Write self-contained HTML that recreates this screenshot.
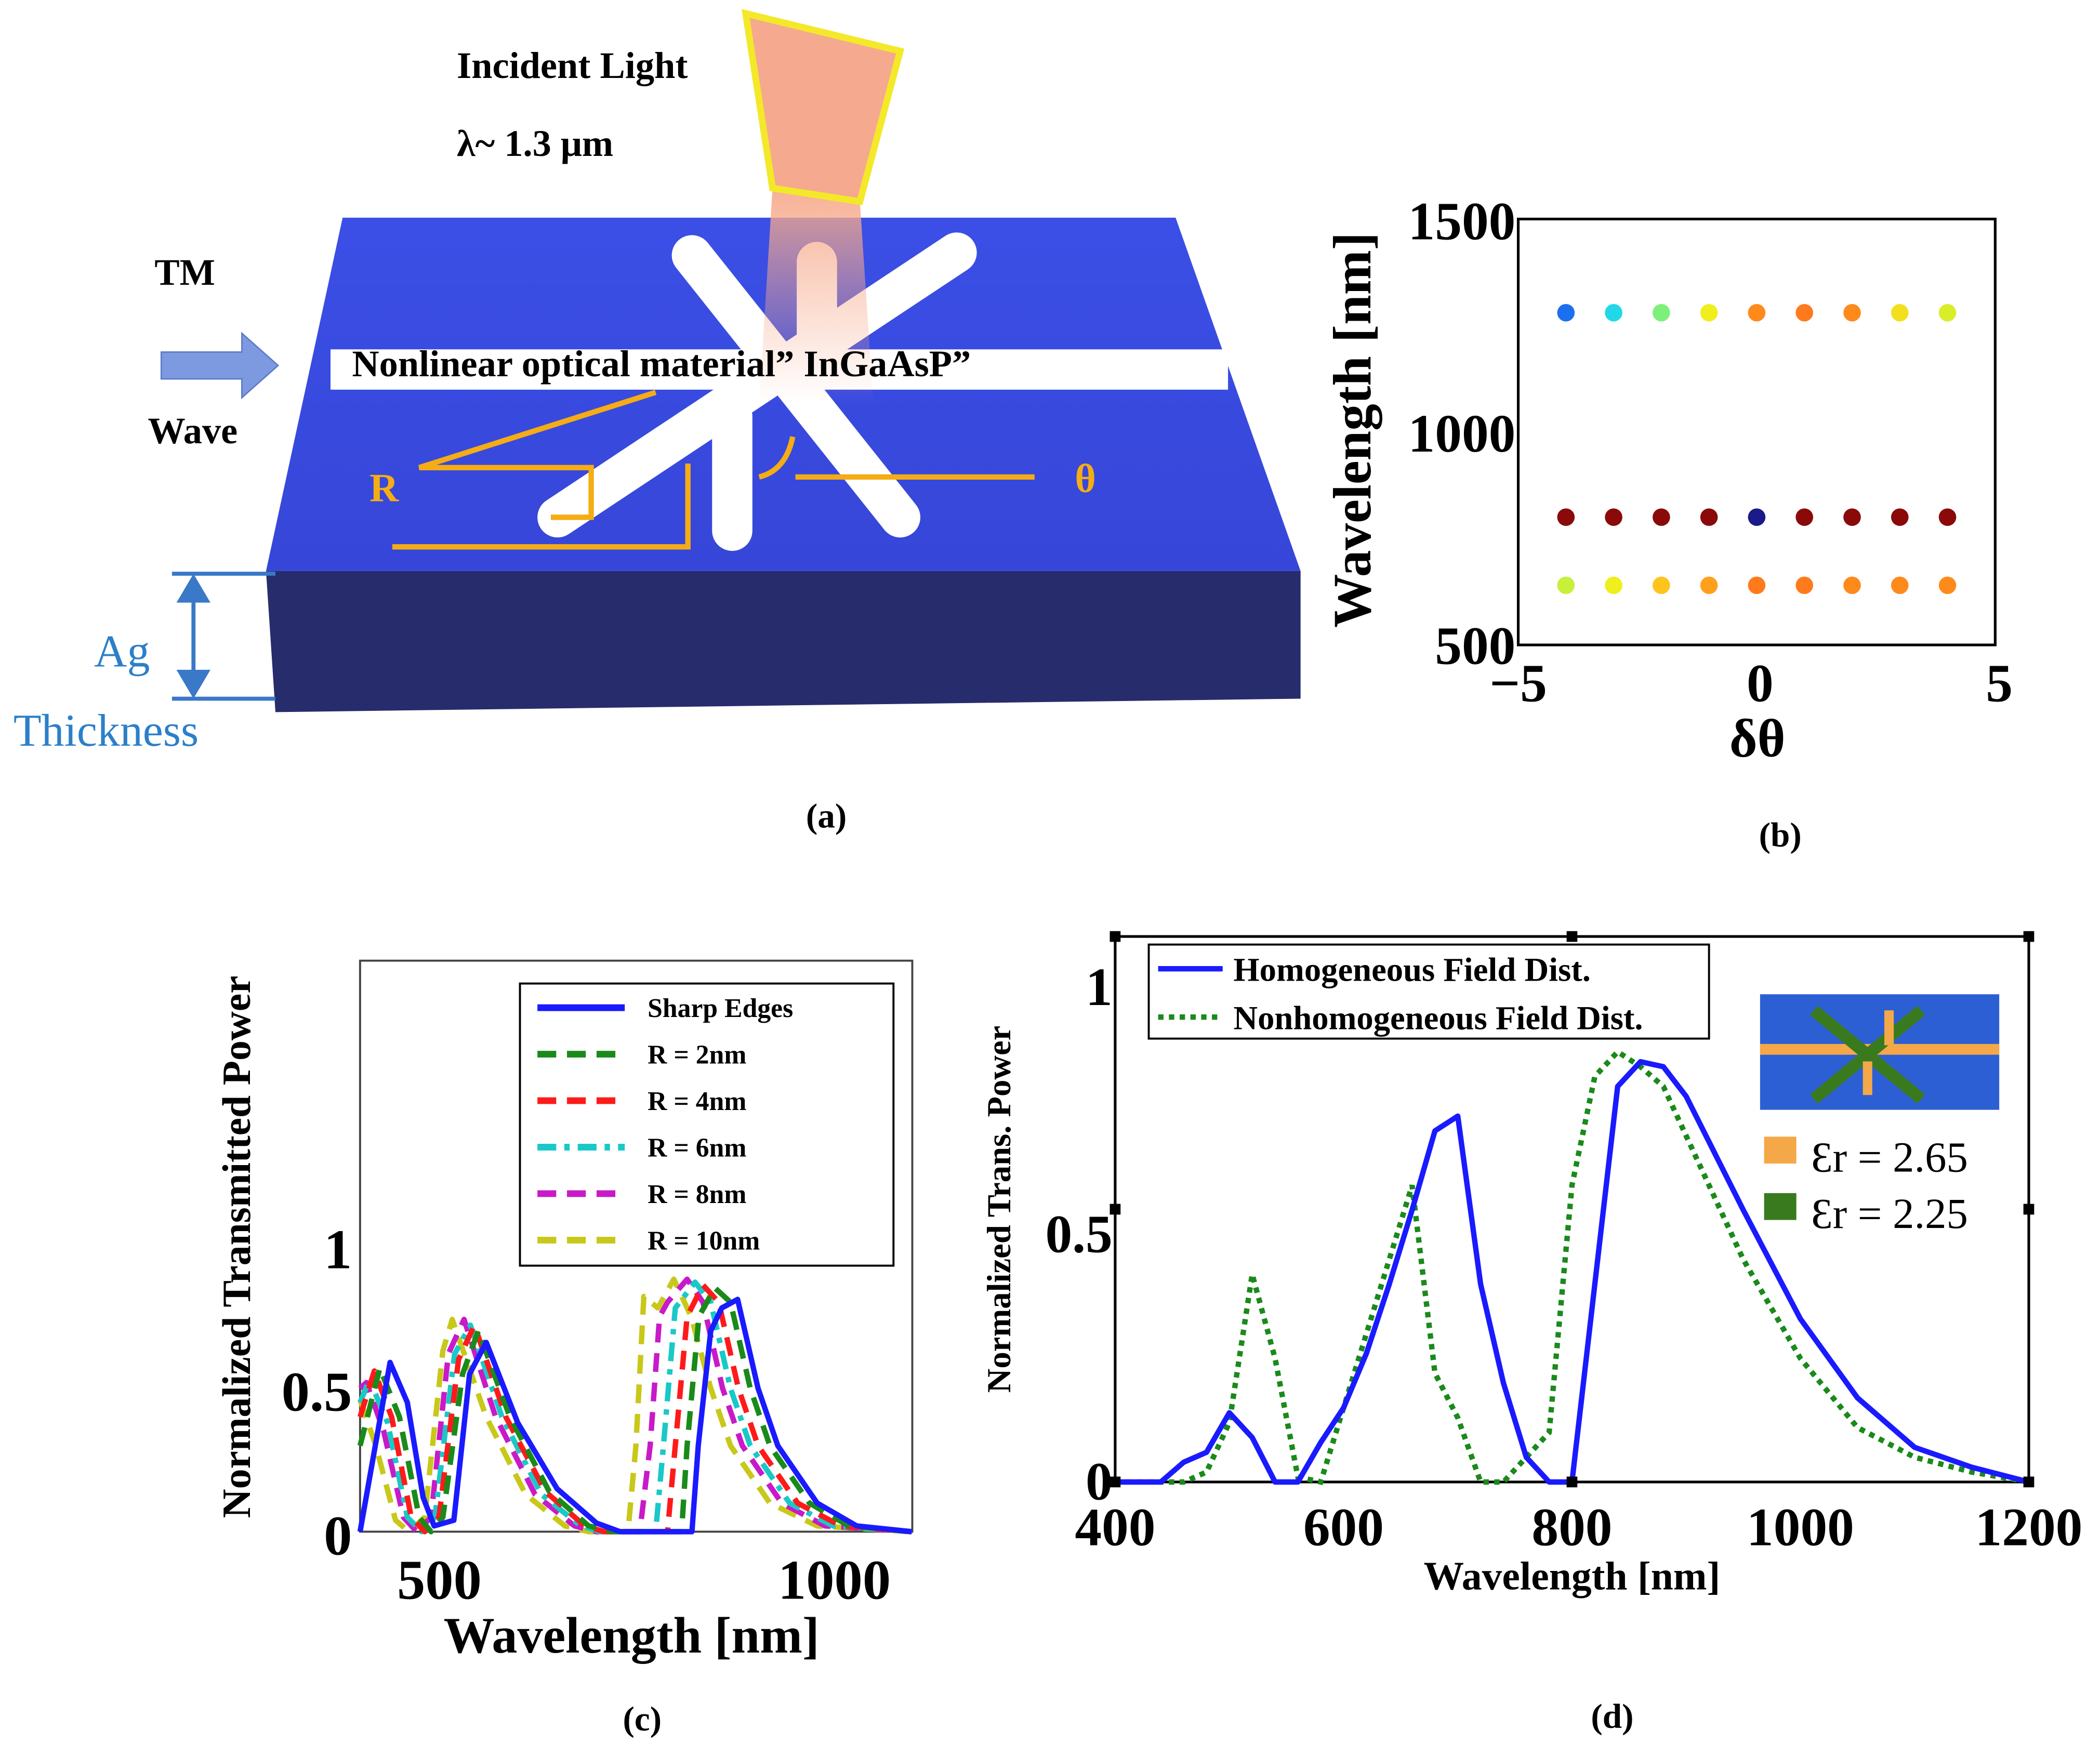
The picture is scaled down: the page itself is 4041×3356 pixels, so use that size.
<!DOCTYPE html>
<html><head><meta charset="utf-8">
<style>
html,body{margin:0;padding:0;background:#fff;}
svg{display:block;}
text{font-family:"Liberation Serif",serif;}
</style></head>
<body>
<svg id="fig" width="4041" height="3356" viewBox="0 0 1563 1298" xmlns="http://www.w3.org/2000/svg">
<defs>
<linearGradient id="topg" x1="0" y1="0" x2="0" y2="1"><stop offset="0" stop-color="#3b4fe6"/><stop offset="1" stop-color="#3646d8"/></linearGradient>
<linearGradient id="beam" x1="0" y1="0" x2="0" y2="1"><stop offset="0" stop-color="#f6a88a" stop-opacity="0.9"/><stop offset="1" stop-color="#f6a88a" stop-opacity="0"/></linearGradient>
</defs>
<g>
<polygon points="255,162 875,162 968,425 198,425" fill="url(#topg)"/>
<polygon points="198,425 968,425 968,520 205,530" fill="#262c6c"/>
<rect x="246" y="260" width="668" height="30" fill="#fff"/>
<g stroke="#fff" stroke-linecap="round" stroke-width="30">
<line x1="515" y1="190" x2="670" y2="385"/>
<line x1="712" y1="188" x2="415" y2="385"/>
<line x1="608" y1="195" x2="608" y2="250"/>
<line x1="545" y1="310" x2="545" y2="395"/>
</g>
<polygon points="575,140 640,150 650,300 565,300" fill="url(#beam)"/>
<polygon points="555,10 670,38 640,150 575,140" fill="#f5a98e" stroke="#f4e82a" stroke-width="5"/>
<text x="340" y="58" font-size="28" font-weight="bold">Incident Light</text>
<text x="340" y="116" font-size="28" font-weight="bold">λ~ 1.3 μm</text>
<text x="115" y="212" font-size="28" font-weight="bold">TM</text>
<polygon points="120,262 180,262 180,248 207,272 180,296 180,282 120,282" fill="#7d9ae0" stroke="#5a78c8"/>
<text x="110" y="330" font-size="28" font-weight="bold">Wave</text>
<text x="262" y="280" font-size="28" font-weight="bold">Nonlinear optical material” InGaAsP”</text>
<g stroke="#f5ac15" stroke-width="4" fill="none">
<polyline points="488,292 312,348 440,348 440,385 410,385"/>
<polyline points="292,407 512,407 512,345"/>
<line x1="770" y1="355" x2="592" y2="355"/>
<path d="M590,325 Q585,350 565,355"/>
</g>
<text x="275" y="373" font-size="30" font-weight="bold" fill="#f5ac15">R</text>
<text x="800" y="366" font-size="30" font-weight="bold" fill="#f5ac15">θ</text>
<g stroke="#3a78c8" stroke-width="3" fill="#3a78c8">
<line x1="128" y1="427" x2="205" y2="427"/><line x1="128" y1="520" x2="205" y2="520"/>
<line x1="144" y1="440" x2="144" y2="505"/>
<polygon points="134,447 144,430 154,447"/><polygon points="134,500 144,517 154,500"/>
</g>
<text x="70" y="496" font-size="34" fill="#2c7fc9">Ag</text>
<text x="10" y="555" font-size="34" fill="#2c7fc9">Thickness</text>
<text x="615" y="616" font-size="26" font-weight="bold" text-anchor="middle">(a)</text>
</g>
<g id="pb">
<rect x="1130" y="163" width="355" height="317" fill="none" stroke="#000" stroke-width="2"/>
<text x="1130" y="522" font-size="40" font-weight="bold" text-anchor="middle">−5</text>
<text x="1310" y="522" font-size="40" font-weight="bold" text-anchor="middle">0</text>
<text x="1488" y="522" font-size="40" font-weight="bold" text-anchor="middle">5</text>
<text x="1128" y="178" font-size="40" font-weight="bold" text-anchor="end">1500</text>
<text x="1128" y="336" font-size="40" font-weight="bold" text-anchor="end">1000</text>
<text x="1128" y="494" font-size="40" font-weight="bold" text-anchor="end">500</text>
<text x="1308" y="563" font-size="40" font-weight="bold" text-anchor="middle">δθ</text>
<text transform="translate(1020,320) rotate(-90)" font-size="40" font-weight="bold" text-anchor="middle">Wavelength [nm]</text>
<text x="1325" y="630" font-size="26" font-weight="bold" text-anchor="middle">(b)</text>
</g>
<g id="pc">
<rect x="268" y="715" width="411" height="425" fill="none" stroke="#444" stroke-width="1.5"/>
<text x="327" y="1190" font-size="42" font-weight="bold" text-anchor="middle">500</text>
<text x="621" y="1190" font-size="42" font-weight="bold" text-anchor="middle">1000</text>
<text x="262" y="1157" font-size="42" font-weight="bold" text-anchor="end">0</text>
<text x="262" y="1050" font-size="42" font-weight="bold" text-anchor="end">0.5</text>
<text x="262" y="944" font-size="42" font-weight="bold" text-anchor="end">1</text>
<text x="470" y="1230" font-size="38" font-weight="bold" text-anchor="middle">Wavelength [nm]</text>
<text transform="translate(186,928) rotate(-90)" font-size="30" font-weight="bold" text-anchor="middle">Normalized Transmitted Power</text>
<text x="478" y="1288" font-size="26" font-weight="bold" text-anchor="middle">(c)</text>
</g>
<g id="pd">
<rect x="830" y="697" width="680" height="406" fill="none" stroke="#000" stroke-width="2"/>
<text x="830" y="1150" font-size="40" font-weight="bold" text-anchor="middle">400</text>
<text x="1000" y="1150" font-size="40" font-weight="bold" text-anchor="middle">600</text>
<text x="1170" y="1150" font-size="40" font-weight="bold" text-anchor="middle">800</text>
<text x="1340" y="1150" font-size="40" font-weight="bold" text-anchor="middle">1000</text>
<text x="1510" y="1150" font-size="40" font-weight="bold" text-anchor="middle">1200</text>
<text x="828" y="1116" font-size="40" font-weight="bold" text-anchor="end">0</text>
<text x="828" y="932" font-size="40" font-weight="bold" text-anchor="end">0.5</text>
<text x="828" y="748" font-size="40" font-weight="bold" text-anchor="end">1</text>
<text x="1170" y="1183" font-size="30" font-weight="bold" text-anchor="middle">Wavelength [nm]</text>
<text transform="translate(752,900) rotate(-90)" font-size="25" font-weight="bold" text-anchor="middle">Normalized Trans. Power</text>
<text x="1200" y="1286" font-size="26" font-weight="bold" text-anchor="middle">(d)</text>
<rect x="855" y="703" width="417" height="70" fill="#fff" stroke="#000" stroke-width="1.5"/>
<line x1="862" y1="721" x2="910" y2="721" stroke="#1a1aff" stroke-width="4"/>
<text x="918" y="730" font-size="25" font-weight="bold">Homogeneous Field Dist.</text>
<line x1="862" y1="757" x2="910" y2="757" stroke="#1a8a1a" stroke-width="4" stroke-dasharray="4,4"/>
<text x="918" y="766" font-size="25" font-weight="bold">Nonhomogeneous Field Dist.</text>
<rect x="1310" y="740" width="178" height="86" fill="#2d5fd4"/>
<line x1="1310" y1="781" x2="1488" y2="781" stroke="#f5a848" stroke-width="8"/>
<line x1="1350" y1="752" x2="1430" y2="818" stroke="#3a7a1e" stroke-width="9"/>
<line x1="1430" y1="752" x2="1350" y2="818" stroke="#3a7a1e" stroke-width="9"/>
<line x1="1406" y1="752" x2="1406" y2="778" stroke="#f5a848" stroke-width="7"/>
<line x1="1390" y1="790" x2="1390" y2="815" stroke="#f5a848" stroke-width="7"/>
<rect x="1313" y="846" width="24" height="20" fill="#f5a848"/>
<text x="1348" y="872" font-size="32">Ɛr = 2.65</text>
<rect x="1313" y="888" width="24" height="20" fill="#3a7a1e"/>
<text x="1348" y="914" font-size="32">Ɛr = 2.25</text>
</g>
</svg>
<script>
var NS="http://www.w3.org/2000/svg";
// ---- Panel b data ----
var bX=[-4,-3,-2,-1,0,1,2,3,4];
var bRows=[1280,800,640];
var bColors=[
["#1c6ff0","#22d8e8","#7df07a","#f0ee1c","#ff8a1c","#ff7a1c","#ff8a1c","#f2e01c","#d8ee2a"],
["#8a0a0a","#8a0a0a","#8a0a0a","#8a0a0a","#1a1a8a","#8a0a0a","#8a0a0a","#8a0a0a","#8a0a0a"],
["#c8f03a","#f0ee1c","#ffc41c","#ffa01c","#ff7a1c","#ff7a1c","#ff8a1c","#ff8a1c","#ff8a1c"]];
// ---- Panel c data ----
var cNames=["Sharp Edges","R = 2nm","R = 4nm","R = 6nm","R = 8nm","R = 10nm"];
var cSharp=[[400,0],[438,0.59],[460,0.45],[480,0.12],[494,0.02],[519,0.04],[539,0.55],[560,0.66],[600,0.38],[650,0.15],[700,0.03],[730,0],[821,0],[829,0.3],[845,0.7],[859,0.78],[879,0.81],[905,0.5],[930,0.3],[980,0.1],[1030,0.02],[1100,0]];
var cR2=[[400,0.3],[425,0.57],[450,0.4],[475,0.05],[490,0],[505,0.05],[530,0.55],[550,0.7],[590,0.4],[640,0.14],[690,0.02],[720,0],[808,0],[815,0.3],[830,0.75],[850,0.85],[870,0.8],[895,0.5],[920,0.3],[970,0.1],[1020,0.02],[1100,0]];
var cR4=[[400,0.4],[418,0.56],[440,0.4],[465,0.05],[482,0],[500,0.05],[525,0.6],[545,0.72],[585,0.4],[635,0.14],[685,0.02],[710,0],[790,0],[800,0.3],[815,0.75],[835,0.86],[855,0.8],[880,0.5],[905,0.3],[955,0.1],[1010,0.02],[1100,0]];
var cR6=[[400,0.45],[412,0.53],[435,0.38],[460,0.05],[478,0],[495,0.05],[520,0.62],[540,0.72],[580,0.4],[630,0.13],[680,0.02],[705,0],[775,0],[785,0.3],[800,0.78],[825,0.87],[845,0.8],[870,0.5],[895,0.3],[945,0.1],[1000,0.02],[1100,0]];
var cR8=[[400,0.5],[408,0.52],[430,0.35],[455,0.05],[472,0],[490,0.05],[512,0.62],[532,0.74],[572,0.4],[622,0.13],[672,0.02],[700,0],[755,0],[768,0.3],[780,0.75],[790,0.8],[815,0.88],[835,0.8],[860,0.5],[885,0.3],[935,0.1],[990,0.02],[1100,0]];
var cR10=[[400,0.46],[420,0.3],[445,0.04],[462,0],[482,0.05],[505,0.63],[517,0.74],[560,0.4],[610,0.13],[660,0.02],[690,0],[740,0],[750,0.3],[760,0.82],[778,0.78],[798,0.88],[820,0.75],[845,0.5],[870,0.3],[920,0.1],[980,0.02],[1100,0]];
// ---- Panel d data ----
var dWl=[400,440,460,480,500,520,540,560,580,600,620,640,660,680,700,720,740,760,780,800,820,840,860,880,900,950,1000,1050,1100,1150,1200];
var dHomog=[0,0,0.04,0.06,0.14,0.09,0,0,0.08,0.15,0.26,0.4,0.55,0.71,0.74,0.4,0.2,0.05,0,0,0.4,0.8,0.85,0.84,0.78,0.55,0.33,0.17,0.07,0.03,0];
var dNonhom=[0,0,0,0.02,0.12,0.42,0.25,0.01,0,0.15,0.3,0.45,0.6,0.22,0.13,0,0,0.05,0.1,0.6,0.82,0.87,0.84,0.8,0.7,0.45,0.25,0.11,0.05,0.02,0];

function bx(v){return 1130+(v+5)*35.5;}
function by(v){return 480-(v-500)*0.317;}
function cx(v){return 268+(v-400)*0.5866;}
function cy(v){return 1140-v*213.5;}
function dx(v){return 830+(v-400)*0.85;}
function dy(v){return 1103-v*368;}
function mk(tag,attrs,parent){var e=document.createElementNS(NS,tag);for(var k in attrs)e.setAttribute(k,attrs[k]);parent.appendChild(e);return e;}

var pb=document.getElementById('pb');
for(var r=0;r<bRows.length;r++){for(var i=0;i<bX.length;i++){
 var c=mk('circle',{cx:bx(bX[i]),cy:by(bRows[r]),r:6.5,fill:bColors[r][i]},pb);
 
 
}}

var pc=document.getElementById('pc');
var cSeries=[cSharp,cR2,cR4,cR6,cR8,cR10];
var cCols=["#1a1aff","#1a8a1a","#ff1a1a","#1ac8c8","#c81ac8","#c8c81a"];
var cDash=["none","14,8","14,8","14,6,4,6","14,8","14,8"];
for(var s=cSeries.length-1;s>=0;s--){
 var d=cSeries[s].map(function(p,j){return (j?'L':'M')+cx(p[0]).toFixed(1)+','+cy(p[1]).toFixed(1);}).join(' ');
 var p=mk('path',{d:d,fill:'none',stroke:cCols[s],'stroke-width':4,'stroke-dasharray':cDash[s],'stroke-linejoin':'round'},pc);
 
 
}
var lg=mk('rect',{x:387,y:732,width:278,height:210,fill:'#fff',stroke:'#000','stroke-width':1.5},pc);


for(var s2=0;s2<cNames.length;s2++){
 var yy=750+s2*34.6;
 var l=mk('line',{x1:400,y1:yy,x2:465,y2:yy,stroke:cCols[s2],'stroke-width':5,'stroke-dasharray':cDash[s2]},pc);
 
 
 var t=mk('text',{x:482,y:yy+7,'font-size':20,'font-weight':'bold'},pc);
 t.textContent=cNames[s2];
 
 
}

var pd=document.getElementById('pd');
function dPath(arr){return dWl.map(function(w,j){return (j?'L':'M')+dx(w).toFixed(1)+','+dy(arr[j]).toFixed(1);}).join(' ');}
var g1=mk('path',{d:dPath(dNonhom),fill:'none',stroke:'#1a8a1a','stroke-width':4,'stroke-dasharray':'4,4'},pd);


var b1=mk('path',{d:dPath(dHomog),fill:'none',stroke:'#1a1aff','stroke-width':4,'stroke-linejoin':'round'},pd);


[[830,697],[1170,697],[1510,697],[830,900],[1510,900],[830,1103],[1170,1103],[1510,1103]].forEach(function(q){
 var m=mk('rect',{x:q[0]-4,y:q[1]-4,width:8,height:8,fill:'#000'},pd);
 
 
});
</script>
</body></html>
